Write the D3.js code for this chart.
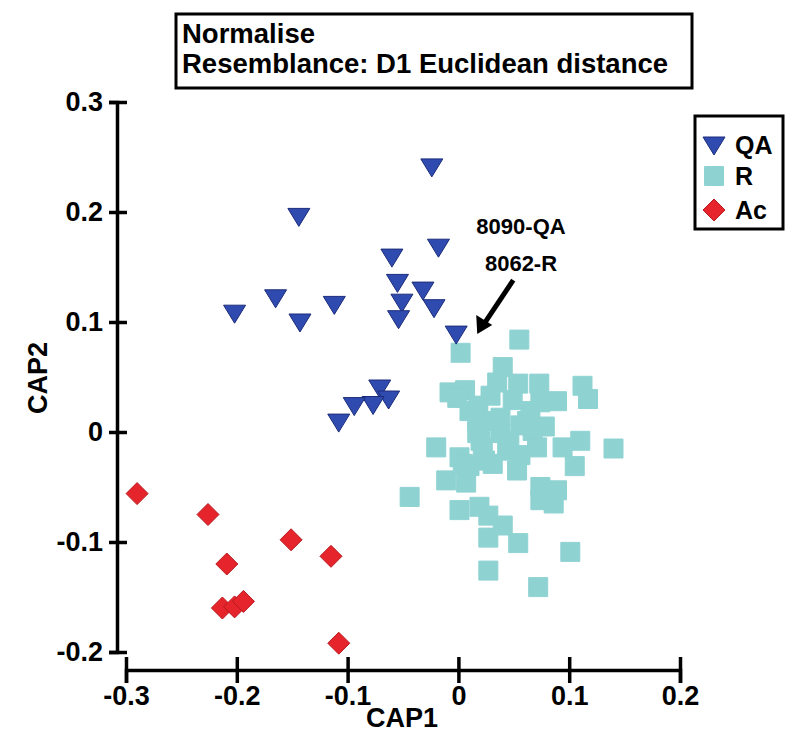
<!DOCTYPE html>
<html>
<head>
<meta charset="utf-8">
<script src="https://cdn.jsdelivr.net/npm/d3@7"></script>
<style>
  body { margin: 0; background: #fff; }
  text { font-family: "Liberation Sans", Arial, sans-serif; font-weight: bold; fill: #000; }
</style>
</head>
<body>
<svg class="chart" width="800" height="750"></svg>
<script>
// CAP scores
let qaCap1 = [-0.024, -0.144, -0.018, -0.060, -0.055, -0.032, -0.051, -0.022, -0.054, -0.165,
              -0.202, -0.143, -0.112, -0.002, -0.071, -0.063, -0.077, -0.094, -0.108];
let qaCap2 = [0.241, 0.196, 0.168, 0.159, 0.136, 0.129, 0.118, 0.113, 0.103, 0.122,
              0.108, 0.100, 0.116, 0.089, 0.040, 0.030, 0.025, 0.024, 0.009];

let rCap1 = [0.002, 0.055, 0.040, 0.035, 0.054, 0.073, 0.112, 0.117, -0.008, 0.006,
             0.049, 0.074, 0.089, 0.018, 0.017, 0.038, 0.062, 0.017, 0.038, 0.067,
             -0.020, 0.001, 0.022, 0.044, 0.071, 0.094, 0.110, 0.140, 0.105, 0.053,
             -0.011, 0.007, -0.044, 0.074, 0.089, 0.074, 0.086, 0.001, 0.019, 0.027,
             0.040, 0.027, 0.054, 0.101, 0.027, 0.072, 0.004, 0.031, -0.001, 0.029,
             0.056, 0.065, 0.029, 0.010, 0.010, 0.046, 0.056, 0.024, 0.020, 0.078];
let rCap2 = [0.072, 0.084, 0.059, 0.045, 0.044, 0.044, 0.042, 0.030, 0.036, 0.038,
             0.029, 0.027, 0.028, 0.024, 0.010, 0.013, 0.010, -0.001, -0.001, 0.001,
             -0.014, -0.023, -0.014, -0.017, -0.014, -0.014, -0.008, -0.015, -0.031, -0.035,
             -0.044, -0.046, -0.059, -0.050, -0.053, -0.062, -0.065, -0.071, -0.068, -0.076,
             -0.085, -0.096, -0.101, -0.109, -0.126, -0.141, -0.029, -0.029, 0.031, 0.033,
             -0.021, 0.019, 0.010, -0.031, 0.019, -0.008, 0.006, -0.026, -0.008, 0.005];

let acCap1 = [-0.290, -0.226, -0.151, -0.115, -0.209, -0.213, -0.202, -0.194, -0.108];
let acCap2 = [-0.056, -0.075, -0.098, -0.113, -0.120, -0.160, -0.159, -0.154, -0.192];

let xTicks = [-0.3, -0.2, -0.1, 0, 0.1, 0.2];
let yTicks = [-0.2, -0.1, 0, 0.1, 0.2, 0.3];
let groups = ['QA', 'R', 'Ac'];
let titleLines = ['Normalise', 'Resemblance: D1 Euclidean distance'];
let notes = ['8090-QA', '8062-R'];

let colors = {QA: '#2f4bb0', R: '#8fd2d2', Ac: '#e5242b'};
let strokes = {QA: '#1c2c7a', R: '#8fd2d2', Ac: '#b81a1f'};

let svg = d3.select('.chart');
let x = d3.scaleLinear().domain([-0.3, 0.2]).range([126, 680]);
let y = d3.scaleLinear().domain([-0.2, 0.3]).range([652, 102]);
let axisX = 117, axisY = 670;

// plain hyphen for negatives, like the original
let fmt = (d) => d === 0 ? '0' : d.toFixed(1);

// y axis, ticks crossing the line
let yAxis = svg.append('g')
    .attr('transform', 'translate(' + axisX + ',0)')
    .call(d3.axisLeft(y).tickValues(yTicks).tickFormat(fmt).tickSizeOuter(0).tickSize(8).tickPadding(6));
yAxis.select('.domain').attr('stroke-width', 3.5);
yAxis.selectAll('.tick line').attr('x1', 10).attr('stroke-width', 3.5);
yAxis.selectAll('.tick text').attr('font-size', 27).attr('font-family', null);

let xAxis = svg.append('g')
    .attr('transform', 'translate(0,' + axisY + ')')
    .call(d3.axisBottom(x).tickValues(xTicks).tickFormat(fmt).tickSizeOuter(0).tickSize(13).tickPadding(3));
xAxis.select('.domain').attr('stroke-width', 3.5);
xAxis.selectAll('.tick line').attr('y1', -13).attr('stroke-width', 3.5);
xAxis.selectAll('.tick text').attr('font-size', 27).attr('font-family', null);

svg.append('text')
    .attr('x', 402).attr('y', 727)
    .attr('text-anchor', 'middle')
    .attr('font-size', 27)
    .text('CAP1');
svg.append('text')
    .attr('transform', 'translate(47,378) rotate(-90)')
    .attr('text-anchor', 'middle')
    .attr('font-size', 27)
    .text('CAP2');

// symbol shapes
let shape = {
    QA: 'M-11,-8L11,-8L0,10Z',
    R: 'M-9.5,-9.5L9.5,-9.5L9.5,9.5L-9.5,9.5Z',
    Ac: 'M0,-11L11,0L0,11L-11,0Z'
};

let pts = [];
rCap1.forEach((v, i) => pts.push({g: 'R', a: v, b: rCap2[i]}));
qaCap1.forEach((v, i) => pts.push({g: 'QA', a: v, b: qaCap2[i]}));
acCap1.forEach((v, i) => pts.push({g: 'Ac', a: v, b: acCap2[i]}));

svg.append('g').selectAll('path')
    .data(pts)
    .enter()
    .append('path')
    .attr('d', (d) => shape[d.g])
    .attr('transform', (d) => 'translate(' + x(d.a) + ',' + y(d.b) + ')')
    .attr('fill', (d) => colors[d.g])
    .attr('stroke', (d) => strokes[d.g])
    .attr('stroke-width', 1)
    .attr('stroke-linejoin', 'round');

// title box
svg.append('rect')
    .attr('x', 176).attr('y', 14).attr('width', 516).attr('height', 74)
    .attr('fill', 'none').attr('stroke', '#000').attr('stroke-width', 3);
svg.selectAll('.title')
    .data(titleLines)
    .enter()
    .append('text')
    .attr('class', 'title')
    .attr('x', 182)
    .attr('y', (d, i) => 43 + i * 30)
    .attr('font-size', 27.5)
    .text((d) => d);

// legend
let legend = svg.append('g');
legend.append('rect')
    .attr('x', 695).attr('y', 116).attr('width', 88).attr('height', 113)
    .attr('fill', '#fff').attr('stroke', '#000').attr('stroke-width', 3);
let item = legend.selectAll('.item')
    .data(groups)
    .enter()
    .append('g')
    .attr('class', 'item')
    .attr('transform', (d, i) => 'translate(714,' + [145, 176, 210][i] + ')');
item.append('path')
    .attr('d', (d) => shape[d])
    .attr('fill', (d) => colors[d])
    .attr('stroke', (d) => strokes[d]);
item.append('text')
    .attr('x', 21)
    .attr('dy', '0.36em')
    .attr('font-size', 25)
    .text((d) => d);

// annotation
svg.selectAll('.note')
    .data(notes)
    .enter()
    .append('text')
    .attr('class', 'note')
    .attr('x', 521)
    .attr('y', (d, i) => 234 + i * 37)
    .attr('text-anchor', 'middle')
    .attr('font-size', 22)
    .text((d) => d);

let tipX = x(0.017), tipY = y(0.089);
svg.append('line')
    .attr('x1', tipX + 36).attr('y1', tipY - 54)
    .attr('x2', tipX + 8).attr('y2', tipY - 12)
    .attr('stroke', '#000').attr('stroke-width', 5);
svg.append('path')
    .attr('d', 'M' + tipX + ',' + tipY + 'L' + (tipX - 1) + ',' + (tipY - 19) + 'L' + (tipX + 15) + ',' + (tipY - 9) + 'Z')
    .attr('fill', '#000');
</script>
</body>
</html>
